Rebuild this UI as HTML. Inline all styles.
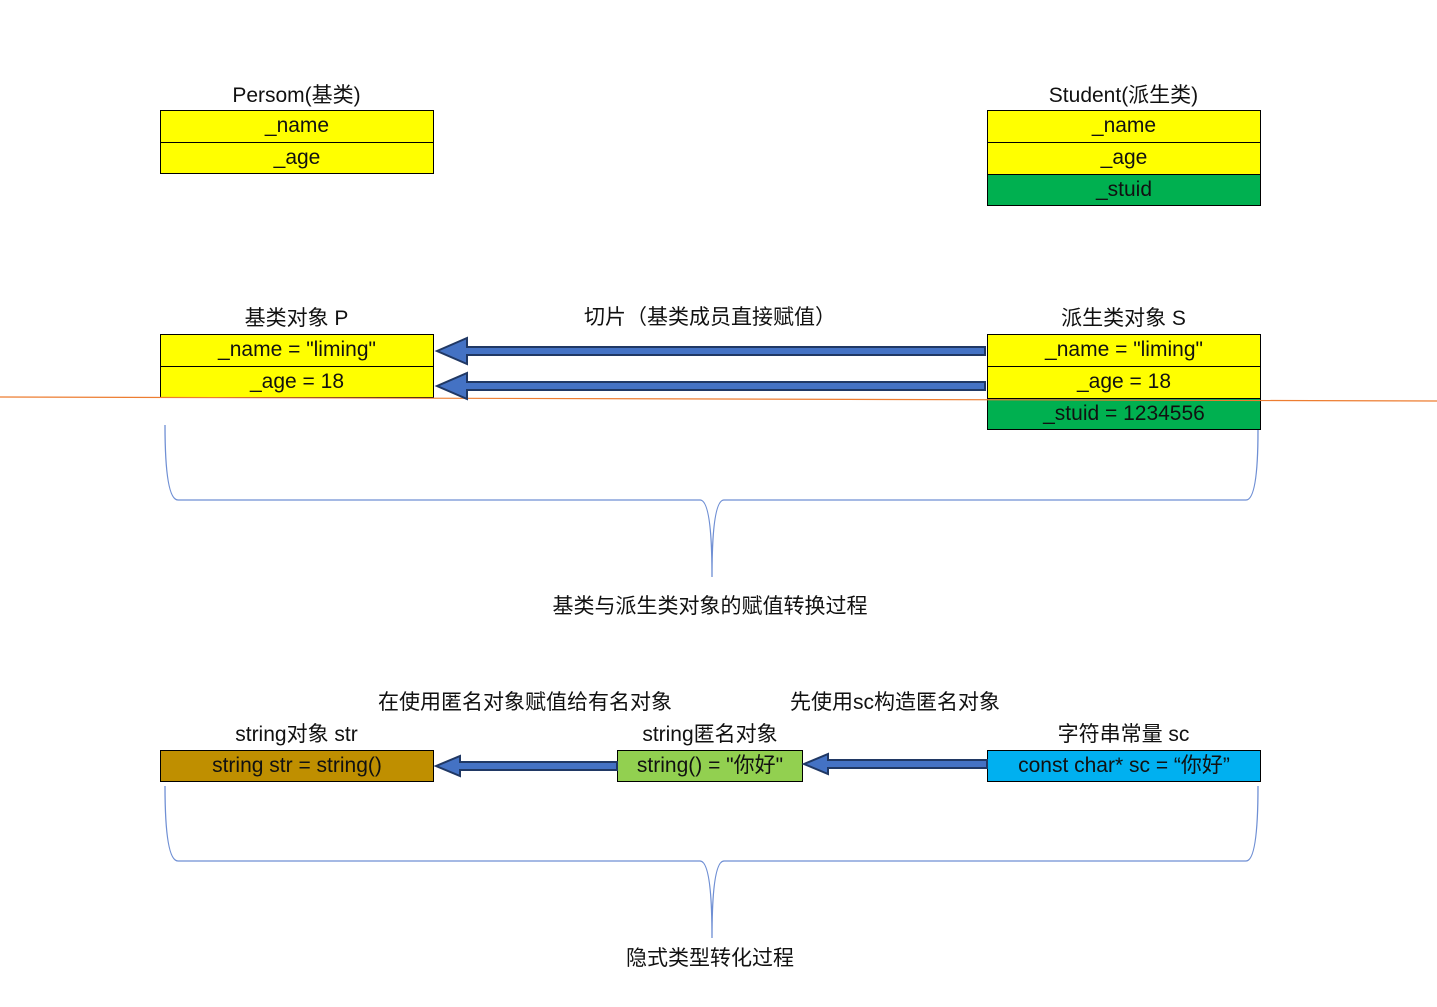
<!DOCTYPE html>
<html><head><meta charset="utf-8"><style>
body{margin:0;width:1437px;height:1007px;background:#fff;position:relative;overflow:hidden;font-family:"Liberation Sans","Noto Sans CJK SC",sans-serif;color:#111}
.b{position:absolute;box-sizing:border-box;border:1px solid #000;font-size:21px;line-height:30px;text-align:center;white-space:nowrap;overflow:hidden}
.y{background:#ffff00}.g{background:#00b050}
.t{position:absolute;font-size:21px;line-height:26px;white-space:nowrap;text-align:center}
svg{position:absolute;left:0;top:0}
</style></head><body>
<div class="t" style="left:160px;width:273px;top:83px">Persom(基类)</div>
<div class="b y" style="left:160px;top:110px;width:274px;height:33px">_name</div>
<div class="b y" style="left:160px;top:142px;width:274px;height:32px">_age</div>

<div class="t" style="left:987px;width:273px;top:83px">Student(派生类)</div>
<div class="b y" style="left:987px;top:110px;width:274px;height:33px">_name</div>
<div class="b y" style="left:987px;top:142px;width:274px;height:33px">_age</div>
<div class="b g" style="left:987px;top:174px;width:274px;height:32px">_stuid</div>

<div class="t" style="left:160px;width:273px;top:306px">基类对象 P</div>
<div class="b y" style="left:160px;top:334px;width:274px;height:33px">_name = "liming"</div>
<div class="b y" style="left:160px;top:366px;width:274px;height:32px">_age = 18</div>
<div class="t" style="left:520px;width:380px;top:305px">切片（基类成员直接赋值）</div>

<div class="t" style="left:987px;width:273px;top:306px">派生类对象 S</div>
<div class="b y" style="left:987px;top:334px;width:274px;height:33px">_name = "liming"</div>
<div class="b y" style="left:987px;top:366px;width:274px;height:33px">_age = 18</div>
<div class="b g" style="left:987px;top:398px;width:274px;height:32px">_stuid = 1234556</div>

<div class="t" style="left:460px;width:500px;top:594px">基类与派生类对象的赋值转换过程</div>

<div class="t" style="left:340px;width:370px;top:690px">在使用匿名对象赋值给有名对象</div>
<div class="t" style="left:760px;width:270px;top:690px">先使用sc构造匿名对象</div>
<div class="t" style="left:160px;width:273px;top:722px">string对象 str</div>
<div class="t" style="left:600px;width:220px;top:722px">string匿名对象</div>
<div class="t" style="left:987px;width:273px;top:722px">字符串常量 sc</div>
<div class="b" style="left:160px;top:750px;width:274px;height:32px;background:#bf8f00">string str = string()</div>
<div class="b" style="left:617px;top:750px;width:186px;height:32px;background:#92d050">string() = "你好"</div>
<div class="b" style="left:987px;top:750px;width:274px;height:32px;background:#00b0f0">const char* sc = “你好”</div>
<div class="t" style="left:510px;width:400px;top:946px">隐式类型转化过程</div>

<svg width="1437" height="1007">
<line x1="0" y1="397" x2="1437" y2="401" stroke="#ed7d31" stroke-width="1.2"/>
<g fill="#4472c4" stroke="#203864" stroke-width="2">
<polygon points="437,351 467,338 467,347 985,347 985,355 467,355 467,364"/>
<polygon points="437,386 467,373 467,382 985,382 985,390 467,390 467,399"/>
<polygon points="436,766 460,756 460,762 617,762 617,770 460,770 460,776"/>
<polygon points="804,764 828,754 828,760 987,760 987,768 828,768 828,774"/>
</g>
<g fill="none" stroke="#6f8fd4" stroke-width="1.3">
<path d="M165,425 Q165,500 178,500 L700,500 Q712,500 712,577 Q712,500 724,500 L1246,500 Q1258,500 1258,430"/>
<path d="M165,786 Q165,861 178,861 L700,861 Q712,861 712,938 Q712,861 724,861 L1246,861 Q1258,861 1258,786"/>
</g>
</svg>
</body></html>
